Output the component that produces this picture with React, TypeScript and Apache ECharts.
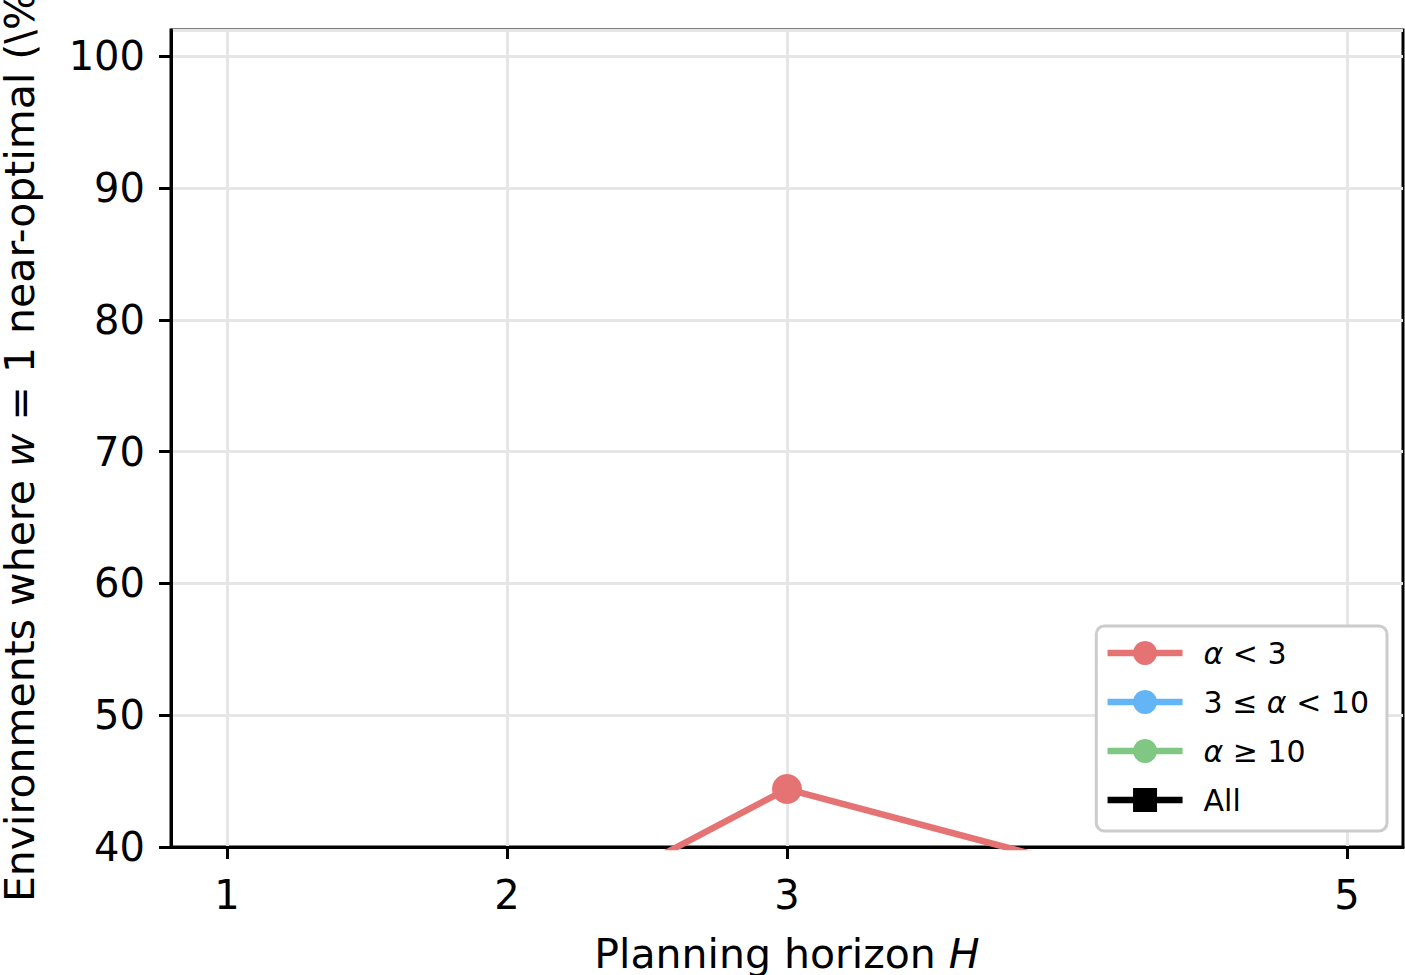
import React, { useEffect, useRef } from "react";
import * as echarts from "echarts";

const horizons = [1, 2, 3, 5];
const xTicks = [1, 2, 3, 5];
const alphaLow = [30.0, 33.2, 44.4, 33.1];
const alphaMid = [12.0, 15.0, 20.0, 18.0];
const alphaHigh = [3.0, 5.0, 7.0, 6.0];
const allEnvs = [10.0, 14.0, 22.0, 17.0];
const seriesNames = ["{i|α} < 3", "3 ≤ {i|α} < 10", "{i|α} ≥ 10", "All"];

const FONT = "DejaVu Sans";

export default function App() {
  const ref = useRef<HTMLDivElement>(null);
  useEffect(() => {
    if (!ref.current) return;
    const chart = echarts.init(ref.current, undefined, { renderer: "svg" });
    const pts = (ys: number[]) => horizons.map((x, i) => [x, ys[i]]);
    const mk = (name: string, ys: number[], color: string, symbol: string, size: number) => ({
      name,
      type: "line",
      data: pts(ys),
      symbol,
      symbolSize: size,
      clip: true,
      lineStyle: { color, width: 6.5 },
      itemStyle: { color },
      emphasis: { disabled: true },
    });
    chart.setOption({
      animation: false,
      backgroundColor: "#ffffff",
      textStyle: { fontFamily: FONT },
      grid: {
        left: 171,
        top: 30,
        right: 2,
        bottom: 128,
        show: true,
        borderColor: "#000",
        borderWidth: 3,
        containLabel: false,
        outerBoundsMode: "none",
      },
      xAxis: {
        type: "value",
        min: 0.8,
        max: 5.2,
        name: "Planning horizon {i|H}",
        nameLocation: "middle",
        nameGap: 86,
        nameTextStyle: {
          fontFamily: FONT,
          fontSize: 41,
          color: "#000",
          rich: { i: { fontFamily: FONT, fontStyle: "italic", fontSize: 41, color: "#000" } },
        },
        axisLine: { show: true, onZero: false, lineStyle: { color: "#000", width: 3 } },
        axisTick: { show: true, length: 12, lineStyle: { color: "#000", width: 3 }, customValues: xTicks },
        axisLabel: { fontSize: 40, color: "#000", margin: 28, customValues: xTicks, fontFamily: FONT },
        splitLine: { show: true, lineStyle: { color: "#e6e6e6", width: 3 } },
      },
      yAxis: {
        type: "value",
        min: 40,
        max: 102,
        interval: 10,
        name: "Environments where {i|w} = 1 near-optimal (\\%)",
        nameLocation: "middle",
        nameGap: 131,
        nameTextStyle: {
          fontFamily: FONT,
          fontSize: 41,
          color: "#000",
          rich: { i: { fontFamily: FONT, fontStyle: "italic", fontSize: 41, color: "#000" } },
        },
        axisLine: { show: true, lineStyle: { color: "#000", width: 3 } },
        axisTick: { show: true, length: 12, lineStyle: { color: "#000", width: 3 } },
        axisLabel: { fontSize: 40, color: "#000", margin: 26, fontFamily: FONT, showMaxLabel: false },
        splitLine: { show: true, lineStyle: { color: "#e6e6e6", width: 3 } },
      },
      legend: {
        show: true,
        orient: "vertical",
        right: 18,
        bottom: 144,
        itemWidth: 75,
        itemHeight: 30,
        itemGap: 19,
        padding: [12, 18, 16, 8],
        backgroundColor: "#ffffff",
        borderColor: "#cccccc",
        borderWidth: 3,
        borderRadius: 8,
        data: seriesNames,
        lineStyle: { width: 6.5 },
        textStyle: {
          fontFamily: FONT,
          fontSize: 30,
          color: "#000",
          padding: [0, 0, 0, 16],
          rich: { i: { fontFamily: FONT, fontStyle: "italic", fontSize: 30, color: "#000" } },
        },
      },
      series: [
        mk(seriesNames[0], alphaLow, "#e57373", "circle", 30),
        mk(seriesNames[1], alphaMid, "#64b5f6", "circle", 30),
        mk(seriesNames[2], alphaHigh, "#81c784", "circle", 30),
        mk(seriesNames[3], allEnvs, "#000000", "rect", 30),
      ],
    });
    return () => chart.dispose();
  }, []);
  return (
    <div
      ref={ref}
      style={{ position: "fixed", left: 0, top: 0, width: 1405, height: 975, background: "#fff" }}
    />
  );
}
